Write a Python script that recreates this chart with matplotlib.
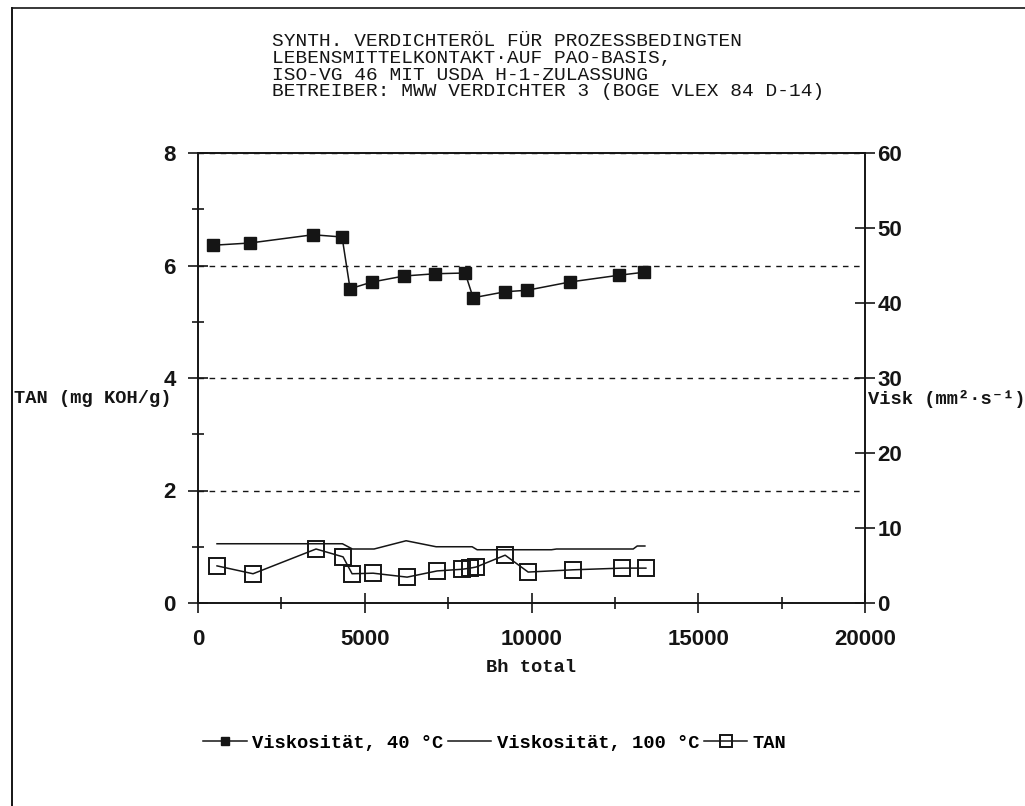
import matplotlib
matplotlib.use("Agg")
import matplotlib.pyplot as plt
from matplotlib.lines import Line2D
from matplotlib.ticker import MultipleLocator

# Betriebsstunden und Viskositaet bei 40 °C (rechte Achse)
bh_v40 = [450, 1560, 3450, 4320, 4560, 5220, 6180, 7110, 8010, 8250, 9210, 9870, 11150, 12620, 13370]
visk40 = [47.7, 48.0, 49.1, 48.8, 41.9, 42.8, 43.6, 43.9, 44.0, 40.7, 41.5, 41.7, 42.8, 43.7, 44.1]

# Viskositaet bei 100 °C (Linie ohne Marker, rechte Achse)
bh_v100 = [570, 4330, 4630, 5280, 6240, 7140, 8220, 8370, 10600, 10750, 13050, 13170, 13400]
visk100 = [7.9, 7.9, 7.2, 7.2, 8.3, 7.5, 7.5, 7.1, 7.1, 7.2, 7.2, 7.6, 7.6]

# TAN (linke Achse)
bh_tan = [570, 1650, 3540, 4350, 4620, 5250, 6270, 7170, 7920, 8160, 8340, 9210, 9900, 11240, 12710, 13430]
tan = [0.66, 0.52, 0.96, 0.82, 0.52, 0.53, 0.46, 0.57, 0.60, 0.62, 0.64, 0.85, 0.55, 0.59, 0.62, 0.62]

title_lines = [
    "SYNTH. VERDICHTERÖL FÜR PROZESSBEDINGTEN",
    "LEBENSMITTELKONTAKT·AUF PAO-BASIS,",
    "ISO-VG 46 MIT USDA H-1-ZULASSUNG",
    "BETREIBER: MWW VERDICHTER 3 (BOGE VLEX 84 D-14)",
]

W, H = 1025, 806
ink = "#151515"
mono = ["Liberation Mono", "DejaVu Sans Mono"]

plt.rcParams["font.family"] = "Liberation Sans"

fig = plt.figure(figsize=(W / 100, H / 100), dpi=100)
ax = fig.add_axes([198 / W, 1 - 603 / H, (865 - 198) / W, (603 - 153) / H])
ax2 = ax.twinx()

ax.set_xlim(0, 20000)
ax.set_ylim(0, 8)
ax2.set_ylim(0, 60)
ax.set_xticks([0, 5000, 10000, 15000, 20000])
ax.set_yticks([0, 2, 4, 6, 8])
ax2.set_yticks([0, 10, 20, 30, 40, 50, 60])
ax.xaxis.set_minor_locator(MultipleLocator(2500))
ax.yaxis.set_minor_locator(MultipleLocator(1))

ax.grid(axis="y", linestyle=(0, (4, 4)), color=ink, lw=1)

for a in (ax, ax2):
    for s in a.spines.values():
        s.set_color(ink)
        s.set_linewidth(1.2)
ax.tick_params(which="major", direction="inout", length=14, width=1.2, colors=ink, labelsize=16)
ax.tick_params(which="minor", direction="inout", length=9, width=1.2, colors=ink)
ax.tick_params(axis="y", pad=9)
ax.tick_params(axis="x", pad=12)
ax2.tick_params(direction="inout", length=14, width=1.2, colors=ink, labelsize=16, pad=2)
for lab in ax.get_xticklabels() + ax.get_yticklabels() + ax2.get_yticklabels():
    lab.set_fontweight("bold")

l_tan, = ax.plot(bh_tan, tan, color=ink, lw=1.1, marker="s", markersize=11,
                 mfc="none", mec=ink, mew=1.4, label="TAN")
l_v40, = ax2.plot(bh_v40, visk40, color=ink, lw=1.1, marker="s", markersize=8,
                  mfc=ink, mec=ink, label="Viskosität, 40 °C")
l_v100, = ax2.plot(bh_v100, visk100, color=ink, lw=1.1, label="Viskosität, 100 °C")

ax.set_xlabel("Bh total", family=mono, fontsize=13.5, fontweight="bold", color=ink, labelpad=6)
fig.text(14 / W, 1 - 399 / H, "TAN (mg KOH/g)", family=mono, fontsize=13.5,
         fontweight="bold", color=ink, va="center", ha="left")
fig.text(868 / W, 1 - 399 / H, "Visk (mm²·s⁻¹)", family=mono, fontsize=13.5,
         fontweight="bold", color=ink, va="center", ha="left")

for i, line in enumerate(title_lines):
    fig.text(272 / W, 1 - (41 + 17 * i) / H, line, family=mono, fontsize=14,
             color=ink, va="center", ha="left")

leg = fig.legend([l_v40, l_v100, l_tan], [l_v40.get_label(), l_v100.get_label(), l_tan.get_label()],
                 loc="center", bbox_to_anchor=(495 / W, 1 - 743 / H), ncol=3, frameon=False,
                 prop={"family": mono, "size": 13.5, "weight": "bold"},
                 handlelength=2.3, handletextpad=0.3, columnspacing=0.25, markerscale=0.8)

# Rahmen links und oben
fig.add_artist(Line2D([12 / W, 12 / W], [0, 1 - 8 / H], transform=fig.transFigure, color=ink, lw=1.4))
fig.add_artist(Line2D([12 / W, 1], [1 - 8 / H, 1 - 8 / H], transform=fig.transFigure, color=ink, lw=1.2))

fig.savefig("out.png", dpi=100)
